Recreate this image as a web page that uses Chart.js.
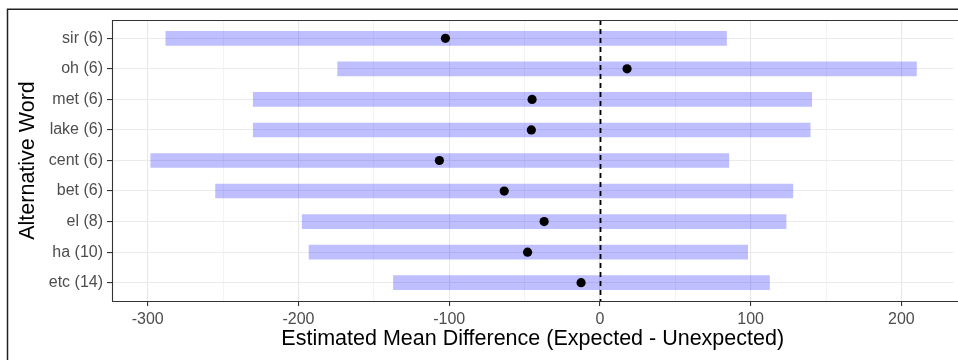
<!DOCTYPE html>
<html><head><meta charset="utf-8">
<script src="https://cdn.jsdelivr.net/npm/chart.js@4.4.1/dist/chart.umd.min.js"></script>
<style>html,body{margin:0;padding:0;background:#fff}#wrap{width:958px;height:360px;position:relative}</style>
</head><body><div id="wrap"><canvas id="c"></canvas></div>
<script>
const words = ["sir (6)","oh (6)","met (6)","lake (6)","cent (6)","bet (6)","el (8)","ha (10)","etc (14)"];
const lower = [-288,-174,-230,-230,-298,-255,-197.5,-193,-137];
const upper = [84,210,140.5,139.5,85.5,128,123.5,98,112.5];
const means = [-102.5,18,-45,-45.5,-106.5,-63.5,-37,-48,-12.5];
const xTicks = [-300,-250,-200,-150,-100,-50,0,50,100,150,200];
const xMin = -323.7, xMax = 234.5;

const FONT = "'Liberation Sans', Arial, sans-serif";

const decor = {
  id: 'decor',
  beforeDraw(chart) {
    const c = chart.ctx;
    c.save();
    c.fillStyle = '#fff';
    c.fillRect(0, 0, chart.width, chart.height);
    c.restore();
  },
  afterDatasetDraw(chart, args) {
    if (args.index !== 0) return;
    const c = chart.ctx, a = chart.chartArea;
    const x0 = Math.round(chart.scales.x.getPixelForValue(0)) + 0.5;
    c.save();
    c.strokeStyle = '#000';
    c.lineWidth = 1.8;
    c.setLineDash([5, 4]);
    c.beginPath();
    c.moveTo(x0, a.top);
    c.lineTo(x0, a.bottom);
    c.stroke();
    c.restore();
  },
  afterDraw(chart) {
    const c = chart.ctx, a = chart.chartArea;
    c.save();
    c.strokeStyle = '#333';
    c.lineWidth = 1.1;
    c.beginPath();
    c.moveTo(chart.width + 5, a.top + 0.5);
    c.lineTo(a.left + 0.5, a.top + 0.5);
    c.lineTo(a.left + 0.5, a.bottom + 0.5);
    c.lineTo(chart.width + 5, a.bottom + 0.5);
    c.stroke();
    c.strokeStyle = '#222';
    c.lineWidth = 1.5;
    c.beginPath();
    c.moveTo(chart.width + 5, 9.25);
    c.lineTo(7.5, 9.25);
    c.lineTo(7.5, chart.height + 5);
    c.stroke();
    c.restore();
  }
};

new Chart(document.getElementById('c'), {
  type: 'bar',
  data: {
    datasets: [
      {
        type: 'bar',
        data: words.map((w, i) => ({ y: i, x: [lower[i], upper[i]] })),
        backgroundColor: 'rgba(0,0,255,0.25)',
        borderWidth: 0,
        barThickness: 14,
        order: 2
      },
      {
        type: 'scatter',
        data: words.map((w, i) => ({ y: i, x: means[i] })),
        backgroundColor: '#000',
        borderColor: '#000',
        pointRadius: 4.6,
        pointHoverRadius: 4.6,
        borderWidth: 0,
        order: 1
      }
    ]
  },
  options: {
    indexAxis: 'y',
    responsive: true,
    maintainAspectRatio: false,
    devicePixelRatio: 1,
    animation: false,
    layout: { padding: { top: 20, left: 0, right: 0, bottom: 0 } },
    plugins: { legend: { display: false }, tooltip: { enabled: false } },
    scales: {
      x: {
        type: 'linear',
        min: xMin, max: xMax,
        offset: false,
        afterBuildTicks(s) { s.ticks = xTicks.map(v => ({ value: v })); },
        afterFit(s) { s.height = 59; },
        border: { display: false },
        grid: {
          offset: false,
          color: ctx => (ctx.tick && ctx.tick.value % 100 === 0) ? '#e8e8e8' : '#f3f3f3',
          lineWidth: ctx => (ctx.tick && ctx.tick.value % 100 === 0) ? 1.1 : 1,
          tickColor: ctx => (ctx.tick && ctx.tick.value % 100 === 0) ? '#333' : 'rgba(0,0,0,0)',
          tickLength: 5,
          tickWidth: 1.1
        },
        ticks: {
          autoSkip: false,
          maxRotation: 0,
          padding: 4,
          color: '#4d4d4d',
          font: { family: FONT, size: 16 },
          callback: v => (v % 100 === 0 ? String(v) : '')
        },
        title: {
          display: true,
          text: 'Estimated Mean Difference (Expected - Unexpected)',
          color: '#000',
          font: { family: FONT, size: 21.5 },
          padding: { top: 0, bottom: 8 }
        }
      },
      y: {
        type: 'linear',
        reverse: true,
        min: -0.6, max: 8.6,
        offset: false,
        afterBuildTicks(s) { s.ticks = words.map((w, i) => ({ value: i })); },
        afterFit(s) { s.width = 112; },
        border: { display: false },
        grid: {
          offset: false,
          color: '#ebebeb',
          lineWidth: 1.1,
          tickColor: '#333',
          tickLength: 5,
          tickWidth: 1.1
        },
        ticks: {
          autoSkip: false,
          padding: 4,
          color: '#4d4d4d',
          font: { family: FONT, size: 16 },
          callback: v => words[v] !== undefined ? words[v] : ''
        },
        title: {
          display: true,
          text: 'Alternative Word',
          color: '#000',
          font: { family: FONT, size: 21.5 },
          padding: { top: 15, bottom: 0 }
        }
      }
    }
  },
  plugins: [decor]
});
</script>
</body></html>
